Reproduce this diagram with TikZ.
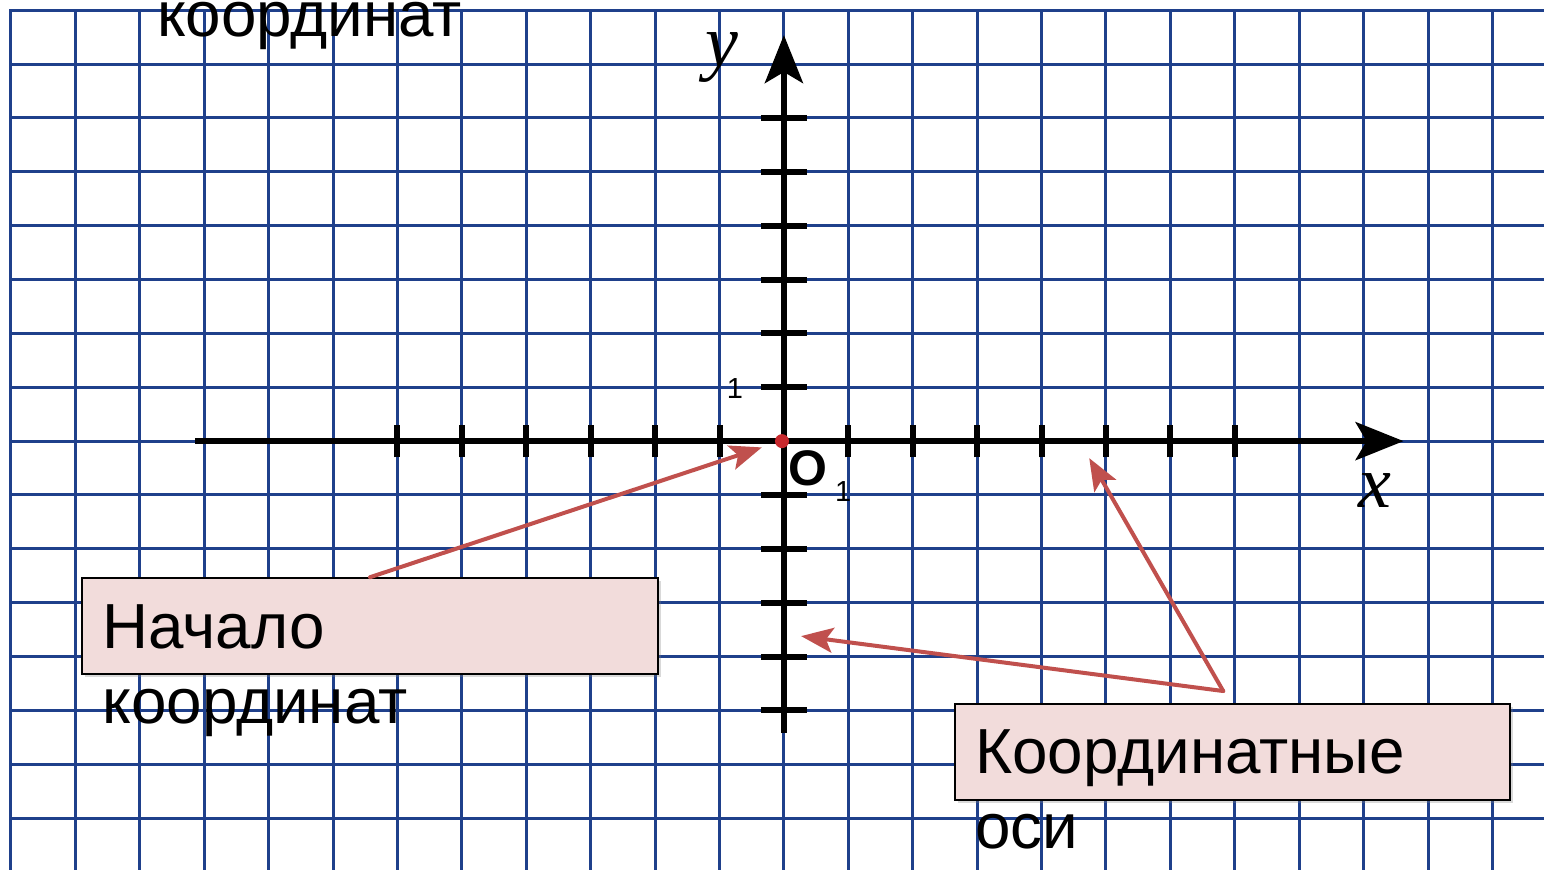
\documentclass[tikz,border=0pt]{standalone}
\usepackage{fontspec}
\setmainfont{Liberation Sans}
\newfontfamily\axisfont{Liberation Serif}
\usetikzlibrary{arrows.meta,shadows}

\definecolor{gridblue}{RGB}{31,64,139}
\definecolor{notered}{RGB}{192,80,77}
\definecolor{notefill}{RGB}{242,220,219}
\definecolor{dotred}{RGB}{200,40,45}

\begin{document}
\begin{tikzpicture}[x=64.4pt, y=53.85pt]
    \tikzset{gridline/.style={draw=gridblue, line width=3pt, line cap=rect},
        axis/.style={line width=6pt, -{Stealth[length=48pt,width=38pt,inset=11pt]}},
        tick/.style={line width=6pt},
        note/.style={draw=black, line width=1.8pt, fill=notefill, rectangle, minimum height=96pt,
            drop shadow={shadow xshift=3pt, shadow yshift=-3pt, opacity=0.3}},
        notetext/.style={anchor=base west, align=left, inner sep=0pt, font=\fontsize{63.7}{75}\selectfont},
        pointer/.style={draw=notered, line width=4pt, line cap=round, -{Stealth[length=32pt,width=25pt,inset=7pt]}},
        ticklabel/.style={font=\fontsize{29}{29}\selectfont, inner sep=0pt},
        axisname/.style={font=\axisfont\itshape\fontsize{74}{74}\selectfont, anchor=base, inner sep=0pt}}
    \useasboundingbox (-12.17,-7.948) rectangle (11.80,8.19);

    % squared paper
    \foreach \i in {-12,...,11}
        \draw[gridline] (\i,-8.1) -- (\i,8);
    \foreach \j in {-7,...,8}
        \draw[gridline] (-12,\j) -- (11.9,\j);

    % axes
    \coordinate (xstart) at (-9.14,0);
    \coordinate (xend) at (9.62,0);
    \coordinate (ystart) at (0,-5.42);
    \coordinate (yend) at (0,7.54);
    \draw[axis] (xstart) -- (xend);
    \draw[axis] (ystart) -- (yend);
    \foreach \i in {-6,-5,-4,-3,-2,-1,1,2,3,4,5,6,7}
        \draw[tick] (\i,-0.3) -- (\i,0.3);
    \foreach \j in {-5,-4,-3,-2,-1,1,2,3,4,5,6}
        \draw[tick] (-0.357,\j) -- (0.357,\j);

    \node[circle, fill=dotred, minimum size=14pt, inner sep=0pt] (origin) at (-0.03,0) {};
    \node[ticklabel] (yone) at (-0.76,0.98) {1};
    \node[ticklabel] (xone) at (0.92,-0.93) {1};
    \node[font=\fontsize{50}{50}\selectfont\bfseries, inner sep=0pt] (oname) at (0.376,-0.50) {O};
    \node[axisname] (xname) at (9.18,-1.226) {x};
    \node[axisname] (yname) at (-0.96,6.96) {y};

    % callouts
    \node[note, minimum width=576pt] (origbox) at (-6.425,-3.435) {};
    \node[note, minimum width=555pt] (axesbox) at (6.967,-5.775) {};
    \node[notetext] (origtext) at (-10.58,-5.237) {Начало\\координат};
    \node[notetext] (axestext) at (2.97,-7.558) {Координатные\\оси};
    \node[notetext] (toptext) at (-9.73,7.52) {координат};

    \coordinate (origtip) at (-0.343,-0.117);
    \coordinate (xaxistip) at (4.74,-0.316);
    \coordinate (yaxistip) at (0.267,-3.62);
    \coordinate (fork) at (6.82,-4.64);
    \draw[pointer] (origbox.north) -- (origtip);
    \draw[pointer] (fork) -- (xaxistip);
    \draw[pointer] (fork) -- (yaxistip);
\end{tikzpicture}
\end{document}
